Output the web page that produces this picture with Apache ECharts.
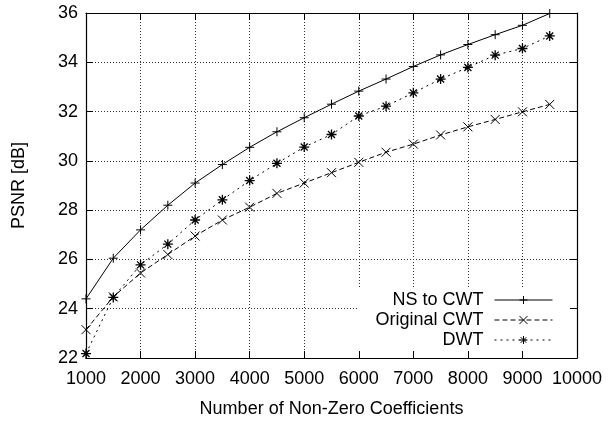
<!DOCTYPE html>
<html>
<head>
<meta charset="utf-8">
<script src="https://cdn.jsdelivr.net/npm/echarts@6/dist/echarts.min.js"></script>
<style>html,body{margin:0;padding:0;background:#fff;}#c{width:609px;height:423px;}</style>
</head>
<body>
<div id="c"></div>
<script>
var xValues = [1000,1500,2000,2500,3000,3500,4000,4500,5000,5500,6000,6500,7000,7500,8000,8500,9000,9500];
var nsToCwt = [24.4,26.05,27.2,28.2,29.1,29.85,30.55,31.18,31.75,32.3,32.83,33.32,33.83,34.3,34.72,35.12,35.5,35.98];
var originalCwt = [23.15,24.48,25.45,26.2,26.95,27.6,28.12,28.68,29.1,29.52,29.94,30.35,30.68,31.05,31.38,31.68,31.99,32.29];
var dwt = [22.18,24.46,25.78,26.62,27.6,28.42,29.2,29.9,30.56,31.07,31.82,32.22,32.76,33.32,33.79,34.29,34.56,35.07];
var seriesNames = ['NS to CWT','Original CWT','DWT'];
var xTitle = 'Number of Non-Zero Coefficients';
var yTitle = 'PSNR [dB]';

function pairs(ys){ return xValues.map(function(x,i){ return [x, ys[i]]; }); }

var FONT = 'Liberation Sans';
var FS = 18;
var plusPath = 'path://M0,5L10,5M5,0L5,10';
var crossPath = 'path://M0,0L10,10M0,10L10,0';
var starPath = 'path://M0,5L10,5M5,0L5,10M1.5,1.5L8.5,8.5M1.5,8.5L8.5,1.5';

function mkSeries(name, data, sym, size, dash, bw){
  return {
    name: name, type: 'line', data: pairs(data),
    symbol: sym, symbolSize: size, showSymbol: true,
    lineStyle: {color:'#000', width:1, type: dash},
    itemStyle: {color:'rgba(0,0,0,0)', borderColor:'#000', borderWidth: bw},
    emphasis: {disabled:true}, silent: true, z: 2
  };
}

var tickStyle = {show:true, inside:true, length:7, lineStyle:{color:'#000', width:1}};
var lineStyleAx = {show:true, onZero:false, lineStyle:{color:'#000', width:1.2}};
var gridLine = {show:true, lineStyle:{color:'#333', width:1, type:[1,2]}};

function mkLegend(name, top){
  return {
    data:[name], orient:'vertical', right:56, top:top, align:'right',
    itemWidth:58, itemHeight:10, padding:0, itemGap:0, selectedMode:false,
    lineStyle:{width:1}, itemStyle:{borderWidth:1},
    textStyle:{fontFamily:FONT, fontSize:FS, color:'#000', padding:[0,6,0,0], lineHeight:20},
    z: 5
  };
}

var chart = echarts.init(document.getElementById('c'), null, {renderer:'canvas'});
chart.setOption({
  animation:false,
  backgroundColor:'#fff',
  grid:{left:86, right:32, top:13, bottom:65, containLabel:false},
  xAxis:[
    {type:'value', min:1000, max:10000, interval:1000, position:'bottom', z:3,
     axisLine:lineStyleAx, axisTick:tickStyle, splitLine:{show:false},
     axisLabel:{fontFamily:FONT, fontSize:FS, color:'#000', margin:12,
       formatter:function(v){ return String(v); }},
     name:xTitle, nameLocation:'middle', nameGap:42,
     nameTextStyle:{fontFamily:FONT, fontSize:FS, color:'#000'}},
    {type:'value', min:1000, max:10000, interval:1000, position:'top', z:0,
     axisLine:lineStyleAx, axisTick:tickStyle, splitLine:gridLine,
     axisLabel:{show:false}}
  ],
  yAxis:[
    {type:'value', min:22, max:36, interval:2, position:'left', z:0,
     axisLine:lineStyleAx, axisTick:tickStyle, splitLine:gridLine,
     axisLabel:{fontFamily:FONT, fontSize:FS, color:'#000', margin:8},
     name:yTitle, nameLocation:'middle', nameGap:58,
     nameTextStyle:{fontFamily:FONT, fontSize:FS, color:'#000'}},
    {type:'value', min:22, max:36, interval:2, position:'right', z:3,
     axisLine:lineStyleAx, axisTick:tickStyle, splitLine:{show:false},
     axisLabel:{show:false}}
  ],
  graphic:{elements:[{type:'rect', left:358, top:288, z:1, silent:true,
     shape:{width:217, height:69}, style:{fill:'#fff'}}]},
  legend:[mkLegend(seriesNames[0],290), mkLegend(seriesNames[1],310), mkLegend(seriesNames[2],330)],
  series:[
    mkSeries(seriesNames[0], nsToCwt, plusPath, 9, 'solid', 1),
    mkSeries(seriesNames[1], originalCwt, crossPath, 9, [5,3], 1),
    mkSeries(seriesNames[2], dwt, starPath, 10, [2,4], 1.3)
  ]
});
</script>
</body>
</html>
